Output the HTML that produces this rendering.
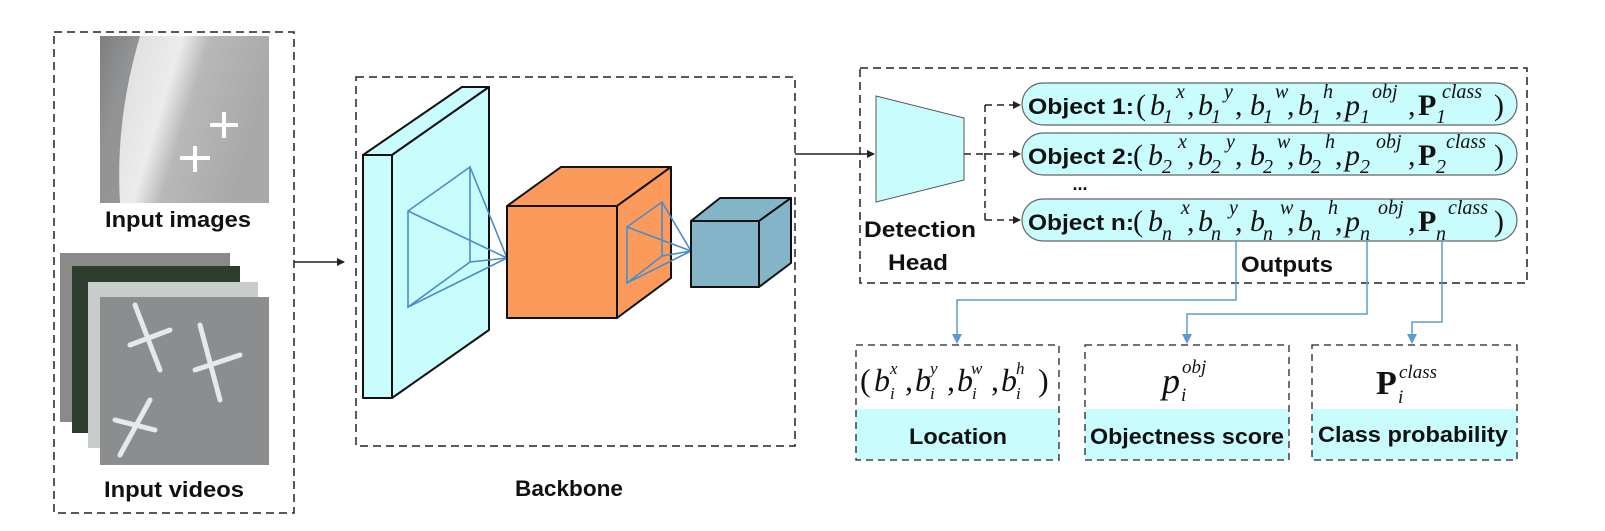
<!DOCTYPE html>
<html><head><meta charset="utf-8"><style>
html,body{margin:0;padding:0;background:#fff;}
svg{display:block;}
.lb{font-family:"Liberation Sans",sans-serif;font-weight:bold;fill:#111;}
.m{font-family:"Liberation Serif",serif;font-style:italic;fill:#111;}
.mb{font-family:"Liberation Serif",serif;font-weight:bold;fill:#111;}
</style></head><body>
<svg width="1605" height="531" viewBox="0 0 1605 531" xmlns="http://www.w3.org/2000/svg">
<defs>
<marker id="ak" markerWidth="8" markerHeight="8" refX="7" refY="4" orient="auto" markerUnits="userSpaceOnUse"><path d="M0,0 L8,4 L0,8 z" fill="#222"/></marker>
<linearGradient id="g1" x1="0" y1="0" x2="1" y2="0.3"><stop offset="0" stop-color="#9a9c9e"/><stop offset="0.2" stop-color="#e0e0e0"/><stop offset="0.45" stop-color="#ececec"/><stop offset="0.6" stop-color="#b8b8b8"/><stop offset="1" stop-color="#a8a8a8"/></linearGradient>
</defs>

<!-- Input box -->
<rect x="54" y="32" width="240" height="481" fill="none" stroke="#222" stroke-width="1.5" stroke-dasharray="8,5"/>
<rect x="100" y="36" width="169" height="167" fill="url(#g1)"/>
<path d="M100,36 L140,36 Q115,120 120,203 L100,203z" fill="#707274" opacity="0.7"/>
<path d="M210,125 l28,0 M224,112 l0,26 M180,158 l30,0 M195,146 l0,26" stroke="#fff" stroke-width="4"/>
<text class="lb" x="178" y="227" font-size="22" text-anchor="middle" textLength="146" lengthAdjust="spacingAndGlyphs">Input images</text>

<rect x="60" y="253" width="170" height="169" fill="#8a8a8a"/>
<rect x="72" y="266" width="168" height="167" fill="#2d3d2d"/>
<rect x="88" y="282" width="170" height="166" fill="#c8ccca"/>
<rect x="100" y="297" width="169" height="168" fill="#8c8d8e"/>
<g stroke="#e6e8ec" stroke-width="5" stroke-linecap="round">
<path d="M135,305 L160,370 M130,345 L170,330"/>
<path d="M200,325 L220,400 M195,370 L240,355"/>
<path d="M150,400 L120,455 M115,420 L155,430"/>
</g>
<text class="lb" x="174" y="497" font-size="22" text-anchor="middle" textLength="140" lengthAdjust="spacingAndGlyphs">Input videos</text>

<line x1="294" y1="262" x2="344" y2="262" stroke="#222" stroke-width="1.5" marker-end="url(#ak)"/>

<!-- Backbone -->
<rect x="356" y="77" width="439" height="369" fill="none" stroke="#222" stroke-width="1.5" stroke-dasharray="8,5"/>
<text class="lb" x="569" y="496" font-size="22" text-anchor="middle" textLength="108" lengthAdjust="spacingAndGlyphs">Backbone</text>

<g stroke="#111" stroke-width="2" stroke-linejoin="round">
<polygon points="363,155 392,155 489,87 462,87" fill="#c9fcfc"/>
<polygon points="392,155 489,87 489,330 392,398" fill="#c9fcfc"/>
<rect x="363" y="155" width="29" height="243" fill="#c9fcfc"/>
</g>
<g stroke="#4a8ccc" stroke-width="1.6" fill="none">
<polygon points="408,211 470,167 470,262 408,307"/>
<path d="M408,211 L507,258 M470,167 L507,258 M470,262 L507,258 M408,307 L507,258"/>
</g>
<g stroke="#111" stroke-width="2" stroke-linejoin="round">
<polygon points="507,206 617,206 671,167 561,167" fill="#fb9a5a"/>
<polygon points="617,206 671,167 671,278 617,318" fill="#fb9a5a"/>
<rect x="507" y="206" width="110" height="112" fill="#fb9a5a"/>
</g>
<g stroke="#4a8ccc" stroke-width="1.6" fill="none">
<polygon points="627,227 662,202 662,256 627,283"/>
<path d="M627,227 L691,251 M662,202 L691,251 M662,256 L691,251 M627,283 L691,251"/>
</g>
<g stroke="#111" stroke-width="2" stroke-linejoin="round">
<polygon points="691,221 759,221 791,198 720,198" fill="#84b4c8"/>
<polygon points="759,221 791,198 791,263 759,287" fill="#84b4c8"/>
<rect x="691" y="221" width="68" height="66" fill="#84b4c8"/>
</g>

<line x1="795" y1="154" x2="874" y2="154" stroke="#222" stroke-width="1.5" marker-end="url(#ak)"/>

<!-- Head box -->
<rect x="860" y="68" width="667" height="215" fill="none" stroke="#222" stroke-width="1.5" stroke-dasharray="8,5"/>
<polygon points="876,96 964,118 964,180 876,202" fill="#c9fcfc" stroke="#555" stroke-width="1"/>
<text class="lb" x="920" y="237" font-size="22" text-anchor="middle" textLength="112" lengthAdjust="spacingAndGlyphs">Detection</text>
<text class="lb" x="918" y="270" font-size="22" text-anchor="middle" textLength="60" lengthAdjust="spacingAndGlyphs">Head</text>
<g stroke="#222" stroke-width="1.5" fill="none" stroke-dasharray="7,5">
<line x1="964" y1="154" x2="985" y2="154"/>
<line x1="985" y1="105" x2="985" y2="220"/>
<line x1="985" y1="105" x2="1020" y2="105" marker-end="url(#ak)"/>
<line x1="985" y1="154" x2="1020" y2="154" marker-end="url(#ak)"/>
<line x1="985" y1="220" x2="1020" y2="220" marker-end="url(#ak)"/>
</g>

<g fill="#c9fcfc" stroke="#666" stroke-width="1.2">
<rect x="1022" y="83" width="495" height="42" rx="21"/>
<rect x="1022" y="133" width="495" height="42" rx="21"/>
<rect x="1022" y="199" width="495" height="42" rx="21"/>
</g>

<text class="lb" x="1028" y="114" font-size="22" textLength="106" lengthAdjust="spacingAndGlyphs">Object 1:</text>
<text class="lb" x="1028" y="164" font-size="22" textLength="106" lengthAdjust="spacingAndGlyphs">Object 2:</text>
<text class="lb" x="1028" y="230" font-size="22" textLength="106" lengthAdjust="spacingAndGlyphs">Object n:</text>
<text class="lb" x="1080" y="190" font-size="18" text-anchor="middle">...</text>

<g>
<text class="m" font-size="30" y="115"><tspan x="1136" font-style="normal">(</tspan><tspan x="1150">b</tspan><tspan x="1187" font-style="normal">,</tspan><tspan x="1198">b</tspan><tspan x="1235" font-style="normal">,</tspan><tspan x="1250">b</tspan><tspan x="1287" font-style="normal">,</tspan><tspan x="1298">b</tspan><tspan x="1335" font-style="normal">,</tspan><tspan x="1345">p</tspan><tspan x="1408" font-style="normal">,</tspan><tspan x="1494" font-style="normal">)</tspan></text>
<text class="mb" font-size="30" x="1418" y="115">P</text>
<text class="m" font-size="20" y="123" font-style="normal"><tspan x="1163">1</tspan><tspan x="1211">1</tspan><tspan x="1263">1</tspan><tspan x="1311">1</tspan><tspan x="1360">1</tspan><tspan x="1436">1</tspan></text>
<text class="m" font-size="20" y="98"><tspan x="1176">x</tspan><tspan x="1224">y</tspan><tspan x="1275">w</tspan><tspan x="1323">h</tspan><tspan x="1372">obj</tspan><tspan x="1442">class</tspan></text>
</g>
<g>
<text class="m" font-size="30" y="165"><tspan x="1133" font-style="normal">(</tspan><tspan x="1148">b</tspan><tspan x="1187" font-style="normal">,</tspan><tspan x="1198">b</tspan><tspan x="1235" font-style="normal">,</tspan><tspan x="1250">b</tspan><tspan x="1287" font-style="normal">,</tspan><tspan x="1298">b</tspan><tspan x="1335" font-style="normal">,</tspan><tspan x="1345">p</tspan><tspan x="1408" font-style="normal">,</tspan><tspan x="1494" font-style="normal">)</tspan></text>
<text class="mb" font-size="30" x="1418" y="165">P</text>
<text class="m" font-size="20" y="173" font-style="normal"><tspan x="1162">2</tspan><tspan x="1211">2</tspan><tspan x="1263">2</tspan><tspan x="1311">2</tspan><tspan x="1360">2</tspan><tspan x="1436">2</tspan></text>
<text class="m" font-size="20" y="148"><tspan x="1178">x</tspan><tspan x="1226">y</tspan><tspan x="1277">w</tspan><tspan x="1325">h</tspan><tspan x="1376">obj</tspan><tspan x="1446">class</tspan></text>
</g>
<g>
<text class="m" font-size="30" y="231"><tspan x="1133" font-style="normal">(</tspan><tspan x="1148">b</tspan><tspan x="1187" font-style="normal">,</tspan><tspan x="1198">b</tspan><tspan x="1235" font-style="normal">,</tspan><tspan x="1250">b</tspan><tspan x="1287" font-style="normal">,</tspan><tspan x="1298">b</tspan><tspan x="1335" font-style="normal">,</tspan><tspan x="1345">p</tspan><tspan x="1408" font-style="normal">,</tspan><tspan x="1494" font-style="normal">)</tspan></text>
<text class="mb" font-size="30" x="1418" y="231">P</text>
<text class="m" font-size="20" y="240"><tspan x="1162">n</tspan><tspan x="1211">n</tspan><tspan x="1263">n</tspan><tspan x="1311">n</tspan><tspan x="1360">n</tspan><tspan x="1436">n</tspan></text>
<text class="m" font-size="20" y="214"><tspan x="1181">x</tspan><tspan x="1229">y</tspan><tspan x="1280">w</tspan><tspan x="1328">h</tspan><tspan x="1378">obj</tspan><tspan x="1448">class</tspan></text>
</g>

<text class="lb" x="1287" y="272" font-size="22" text-anchor="middle" textLength="92" lengthAdjust="spacingAndGlyphs">Outputs</text>

<!-- blue connectors -->
<g stroke="#5b9bd5" stroke-width="1.5" fill="none">
<polyline points="1236,241 1236,300 957,300 957,336"/>
<polyline points="1367,241 1367,314 1187,314 1187,336"/>
<polyline points="1442,241 1442,322 1412,322 1412,336"/>
</g>
<g fill="#5b9bd5">
<path d="M952,334 L962,334 L957,344z"/>
<path d="M1182,334 L1192,334 L1187,344z"/>
<path d="M1407,334 L1417,334 L1412,344z"/>
</g>

<!-- bottom boxes -->
<rect x="856" y="409" width="203" height="51" fill="#c9fcfc"/>
<rect x="1085" y="409" width="204" height="51" fill="#c9fcfc"/>
<rect x="1312" y="409" width="205" height="51" fill="#c9fcfc"/>
<g fill="none" stroke="#222" stroke-width="1.3" stroke-dasharray="7,5">
<rect x="856" y="345" width="203" height="115"/>
<rect x="1085" y="345" width="204" height="115"/>
<rect x="1312" y="345" width="205" height="115"/>
</g>
<text class="lb" x="958" y="444" font-size="22" text-anchor="middle" textLength="98" lengthAdjust="spacingAndGlyphs">Location</text>
<text class="lb" x="1187" y="444" font-size="22" text-anchor="middle" textLength="194" lengthAdjust="spacingAndGlyphs">Objectness score</text>
<text class="lb" x="1413" y="442" font-size="22" text-anchor="middle" textLength="190" lengthAdjust="spacingAndGlyphs">Class probability</text>

<text class="m" font-size="32" y="391"><tspan x="860" font-style="normal">(</tspan><tspan x="874">b</tspan><tspan x="905" font-style="normal">,</tspan><tspan x="915">b</tspan><tspan x="947" font-style="normal">,</tspan><tspan x="957">b</tspan><tspan x="991" font-style="normal">,</tspan><tspan x="1001">b</tspan><tspan x="1038" font-style="normal">)</tspan></text>
<text class="m" font-size="17" y="399"><tspan x="890">i</tspan><tspan x="930">i</tspan><tspan x="972">i</tspan><tspan x="1016">i</tspan></text>
<text class="m" font-size="17" y="374"><tspan x="890">x</tspan><tspan x="930">y</tspan><tspan x="971">w</tspan><tspan x="1016">h</tspan></text>

<text class="m" font-size="36" x="1162" y="393">p</text>
<text class="m" font-size="19" x="1181" y="401">i</text>
<text class="m" font-size="19" x="1182" y="373">obj</text>

<text class="mb" font-size="34" x="1376" y="394">P</text>
<text class="m" font-size="19" x="1398" y="403">i</text>
<text class="m" font-size="19" x="1399" y="378">class</text>
</svg>
</body></html>
